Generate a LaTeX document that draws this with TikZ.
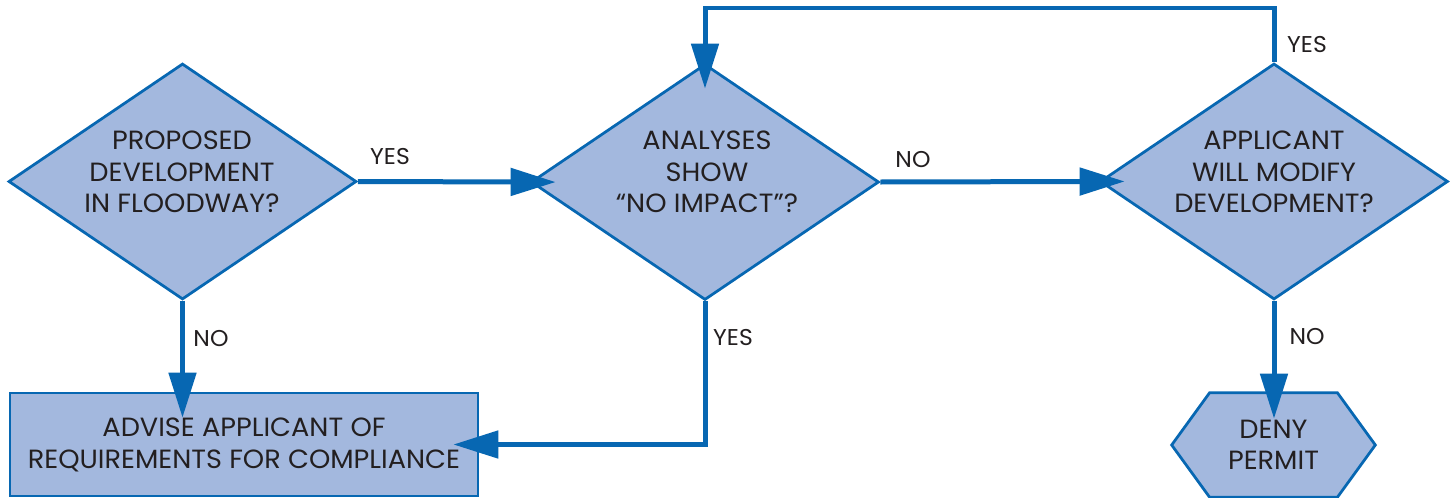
\documentclass[tikz,border=0pt]{standalone}
\usepackage{fontspec}
\setmainfont[FakeStretch=1.03]{Poppins}
\usetikzlibrary{arrows.meta,shapes.geometric,calc}
\definecolor{fillc}{HTML}{A3B8DE}
\definecolor{linec}{HTML}{0767B2}
\definecolor{txt}{HTML}{231F20}
\begin{document}
\begin{tikzpicture}[x=0.02cm,y=-0.02cm,
  dia/.style={diamond, draw=linec, fill=fillc, line width=0.055cm, inner sep=0pt,
    minimum width=6.96cm, minimum height=4.72cm},
  rbox/.style={rectangle, draw=linec, fill=fillc, line width=0.055cm, inner sep=0pt,
    minimum width=9.36cm, minimum height=2.06cm},
  hexbox/.style={rectangle, draw=none, inner sep=0pt, minimum width=4.06cm, minimum height=2.08cm},
  lbl/.style={font=\fontsize{15}{17.8}\selectfont, text=txt, align=center, inner sep=0pt},
  yn/.style={font=\fontsize{13}{15}\selectfont, text=txt, inner sep=0pt},
  conn/.style={draw=linec, line width=0.1cm, -{Triangle[length=0.9cm,width=0.54cm]}, shorten >=-0.52cm}]
\useasboundingbox[fill=white] (0,0) rectangle (1450,497);
% shapes
\node[dia] (d1) at (182.5,181.5) {};
\node[dia] (d2) at (705,182) {};
\node[dia] (d3) at (1274,181.5) {};
\node[rbox] (adv) at (244,444.5) {};
\node[hexbox] (deny) at (1273.5,445) {};
\filldraw[draw=linec, fill=fillc, line width=0.055cm]
  (deny.west) -- ($(deny.north west)+(38,0)$) -- ($(deny.north east)+(-38,0)$) -- (deny.east)
  -- ($(deny.south east)+(-38,0)$) -- ($(deny.south west)+(38,0)$) -- cycle;
% texts
\node[lbl] (t1) at (182,172) {PROPOSED\\DEVELOPMENT\\IN FLOODWAY?};
\node[lbl] (t2) at (707,172) {ANALYSES\\SHOW\\“NO IMPACT”?};
\node[lbl] (t3) at (1274,172) {APPLICANT\\WILL MODIFY\\DEVELOPMENT?};
\node[lbl] (t4) at (244,445) {ADVISE APPLICANT OF\\REQUIREMENTS FOR COMPLIANCE};
\node[lbl] (t5) at (1273.5,445) {DENY\\PERMIT};
% connectors
\coordinate (loop) at (990,8);
\draw[conn] (d1.east) -- (d2.west);
\draw[conn] (d1.south) -- (d1.south |- adv.north);
\draw[conn] (d2.south) |- (adv.east);
\draw[conn] (d2.east) -- (d3.west);
\draw[conn] (d3.north) |- (loop) -| (d2.north);
\draw[conn] (d3.south) -- (d3.south |- deny.north);
% labels
\node[yn] (y1) at (390,157) {YES};
\node[yn] (n1) at (211,339) {NO};
\node[yn] (y2) at (733,338) {YES};
\node[yn] (n2) at (913,160) {NO};
\node[yn] (y3) at (1307,45) {YES};
\node[yn] (n3) at (1307,337) {NO};
\end{tikzpicture}
\end{document}
